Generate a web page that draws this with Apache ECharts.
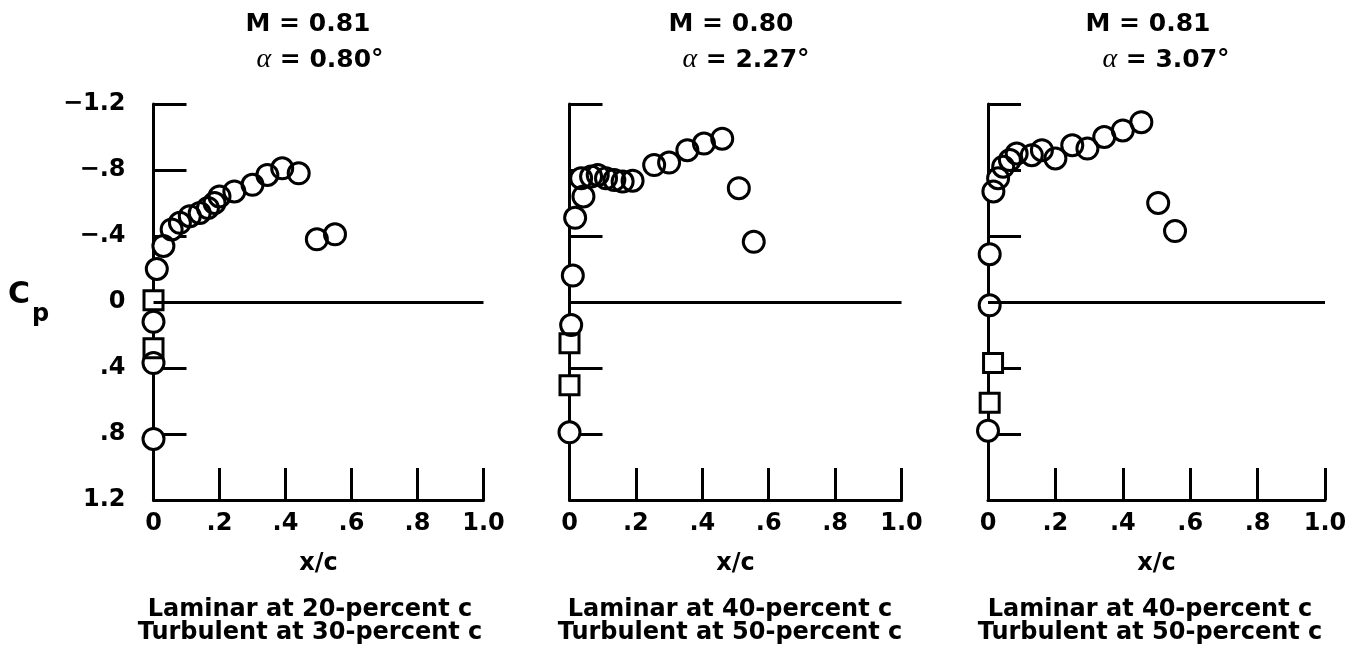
<!DOCTYPE html>
<html>
<head>
<meta charset="utf-8">
<script src="https://cdn.jsdelivr.net/npm/echarts@6/dist/echarts.min.js"></script>
<style>
html,body{margin:0;padding:0;background:#fff;}
#c{width:1361px;height:665px;}
</style>
</head>
<body>
<div id="c"></div>
<script>
// ---- data ----
const xTickLabels = ['0', '.2', '.4', '.6', '.8', '1.0'];
const yTickLabels = ['\u22121.2', '\u2212.8', '\u2212.4', '0', '.4', '.8', '1.2'];
const machNumbers = ['0.81', '0.80', '0.81'];
const alphas = ['0.80', '2.27', '3.07'];
const laminarCaptions = ['Laminar at 20-percent c', 'Laminar at 40-percent c', 'Laminar at 40-percent c'];
const turbulentCaptions = ['Turbulent at 30-percent c', 'Turbulent at 50-percent c', 'Turbulent at 50-percent c'];

const panel1Circles = [[0.01,-0.20],[0.03,-0.34],[0.055,-0.44],[0.08,-0.48],[0.11,-0.52],[0.14,-0.54],[0.165,-0.57],[0.185,-0.60],[0.20,-0.64],[0.245,-0.67],[0.30,-0.71],[0.345,-0.77],[0.39,-0.81],[0.44,-0.78],[0.495,-0.38],[0.55,-0.41],[0,0.12],[0,0.37],[0,0.83]];
const panel1Squares = [[0,-0.01],[0,0.28]];
const panel2Circles = [[0.017,-0.51],[0.042,-0.64],[0.035,-0.75],[0.065,-0.76],[0.085,-0.77],[0.11,-0.75],[0.135,-0.74],[0.16,-0.73],[0.19,-0.735],[0.255,-0.83],[0.30,-0.845],[0.355,-0.92],[0.405,-0.96],[0.46,-0.99],[0.51,-0.69],[0.555,-0.365],[0.01,-0.16],[0.005,0.14],[0,0.79]];
const panel2Squares = [[0,0.25],[0,0.505]];
const panel3Circles = [[0.016,-0.67],[0.03,-0.75],[0.045,-0.82],[0.065,-0.86],[0.085,-0.90],[0.13,-0.89],[0.16,-0.92],[0.20,-0.87],[0.25,-0.95],[0.295,-0.93],[0.345,-1.00],[0.40,-1.04],[0.455,-1.09],[0.505,-0.60],[0.555,-0.43],[0.005,-0.29],[0.005,0.02],[0,0.78]];
const panel3Squares = [[0.015,0.37],[0.005,0.61]];

const circlesByPanel = [panel1Circles, panel2Circles, panel3Circles];
const squaresByPanel = [panel1Squares, panel2Squares, panel3Squares];

// ---- layout ----
const FONT = '"DejaVu Sans", "Liberation Sans", Arial, sans-serif';
const gridLefts = [153.5, 569.5, 988];
const gridWidths = [330, 332, 337];
const titleMX = [308, 731, 1148];
const titleAX = [320, 746, 1166];
const captionX = [310, 730, 1150];

const chart = echarts.init(document.getElementById('c'), null, {renderer: 'canvas'});

const grids = [], xAxes = [], yAxes = [], series = [], graphics = [];
for (let i = 0; i < 3; i++) {
  grids.push({left: gridLefts[i], width: gridWidths[i], top: 104, bottom: 165, containLabel: false});
  xAxes.push({
    type: 'value', gridIndex: i, min: 0, max: 1, interval: 0.2,
    name: 'x/c', nameLocation: 'middle', nameGap: 52,
    nameTextStyle: {fontFamily: FONT, fontWeight: 'bold', fontSize: 24, color: '#000'},
    axisLine: {show: true, onZero: false, lineStyle: {color: '#000', width: 3}},
    axisTick: {show: true, inside: true, length: 32, lineStyle: {color: '#000', width: 3}},
    axisLabel: {show: true, margin: 12, fontFamily: FONT, fontWeight: 'bold', fontSize: 24, color: '#000',
      formatter: v => xTickLabels[Math.round(v / 0.2)]},
    splitLine: {show: false}
  });
  yAxes.push({
    type: 'value', gridIndex: i, min: -1.2, max: 1.2, interval: 0.4, inverse: true,
    axisLine: {show: true, onZero: false, lineStyle: {color: '#000', width: 3}},
    axisTick: {show: true, inside: true, length: 33, lineStyle: {color: '#000', width: 3}},
    axisLabel: {show: i === 0, margin: 28, fontFamily: FONT, fontWeight: 'bold', fontSize: 24, color: '#000',
      formatter: v => yTickLabels[Math.round((v + 1.2) / 0.4)]},
    splitLine: {show: false}
  });
  // zero reference line
  series.push({
    type: 'line', xAxisIndex: i, yAxisIndex: i, data: [], z: 1, silent: true,
    markLine: {silent: true, symbol: 'none', animation: false, label: {show: false},
      lineStyle: {color: '#000', width: 3, type: 'solid'}, data: [{yAxis: 0}]}
  });
  // masks (white fill) then outlines
  series.push({type: 'scatter', xAxisIndex: i, yAxisIndex: i, data: circlesByPanel[i], symbol: 'circle', symbolSize: 21,
    itemStyle: {color: '#fff', borderWidth: 0, opacity: 1}, z: 2, silent: true});
  series.push({type: 'scatter', xAxisIndex: i, yAxisIndex: i, data: squaresByPanel[i], symbol: 'rect', symbolSize: 19,
    itemStyle: {color: '#fff', borderWidth: 0, opacity: 1}, z: 2, silent: true});
  series.push({type: 'scatter', xAxisIndex: i, yAxisIndex: i, data: circlesByPanel[i], symbol: 'circle', symbolSize: 21,
    itemStyle: {color: 'rgba(0,0,0,0)', borderColor: '#000', borderWidth: 3, opacity: 1}, z: 3, silent: true});
  series.push({type: 'scatter', xAxisIndex: i, yAxisIndex: i, data: squaresByPanel[i], symbol: 'rect', symbolSize: 19,
    itemStyle: {color: 'rgba(0,0,0,0)', borderColor: '#000', borderWidth: 3, opacity: 1}, z: 3, silent: true});

  graphics.push({type: 'text', x: titleMX[i], y: 24, style: {text: 'M = ' + machNumbers[i], x: 0, y: 0,
    align: 'center', verticalAlign: 'middle', font: 'bold 25px ' + FONT, fill: '#000'}});
  graphics.push({type: 'text', x: titleAX[i], y: 60, style: {text: '{a|\u03b1}{b| = ' + alphas[i] + '\u00b0}',
    align: 'center', verticalAlign: 'middle', fill: '#000',
    rich: {a: {font: 'italic 28px "Liberation Serif", serif', fill: '#000'}, b: {font: 'bold 25px ' + FONT, fill: '#000'}}}});
  graphics.push({type: 'text', x: captionX[i], y: 610, style: {text: laminarCaptions[i],
    align: 'center', verticalAlign: 'middle', font: 'bold 24px ' + FONT, fill: '#000'}});
  graphics.push({type: 'text', x: captionX[i], y: 633, style: {text: turbulentCaptions[i],
    align: 'center', verticalAlign: 'middle', font: 'bold 24px ' + FONT, fill: '#000'}});
}
graphics.push({type: 'text', x: 8, y: 295, style: {text: 'C', align: 'left', verticalAlign: 'middle', font: 'bold 30px ' + FONT, fill: '#000'}});
graphics.push({type: 'text', x: 32, y: 315, style: {text: 'p', align: 'left', verticalAlign: 'middle', font: 'bold 24px ' + FONT, fill: '#000'}});

chart.setOption({
  animation: false,
  backgroundColor: '#fff',
  grid: grids, xAxis: xAxes, yAxis: yAxes, series: series, graphic: graphics
});
</script>
</body>
</html>
